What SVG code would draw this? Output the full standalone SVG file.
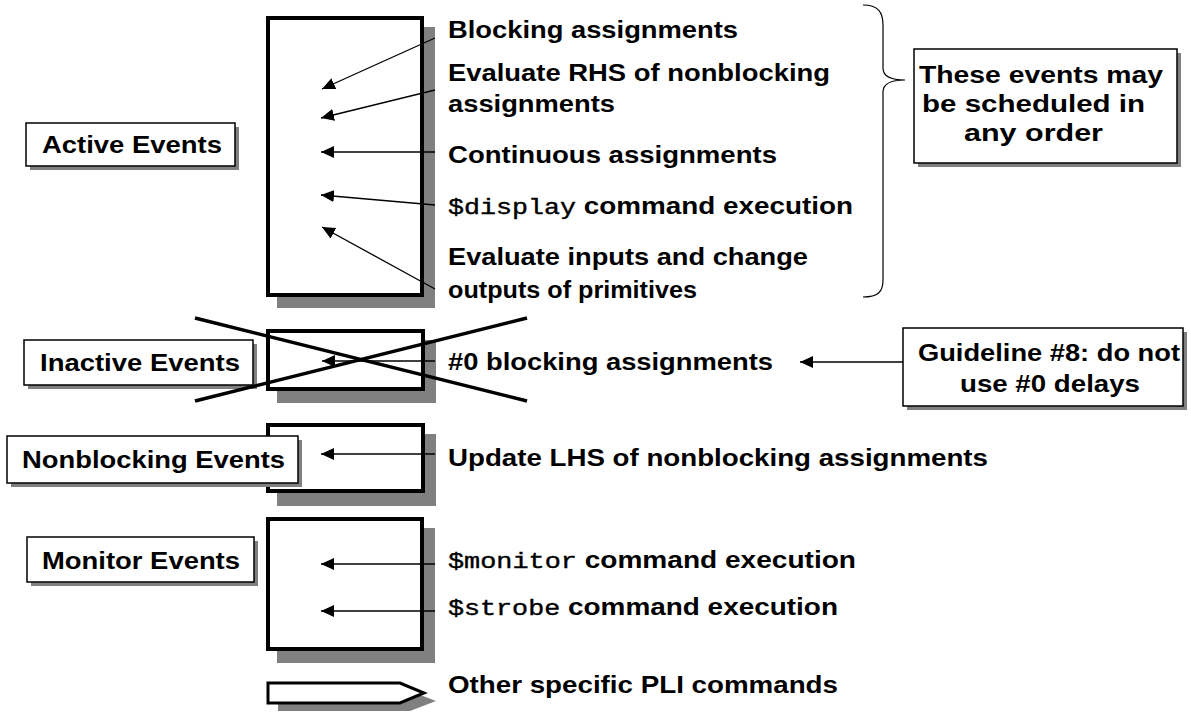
<svg xmlns="http://www.w3.org/2000/svg" width="1191" height="713" viewBox="0 0 1191 713">
<defs>
<marker id="ah" markerUnits="userSpaceOnUse" markerWidth="14" markerHeight="12" refX="13" refY="6" orient="auto">
<path d="M0,0 L13,6 L0,12 Z" fill="#000"/>
</marker>
<style>
.t{font-family:"Liberation Sans",Arial,sans-serif;font-weight:bold;font-size:23px;fill:#000}
.m{font-family:"Liberation Mono","Courier New",monospace;font-weight:normal;font-size:22px;stroke:#000;stroke-width:0.4}
.big{fill:#fff;stroke:#000;stroke-width:4}
.sh{fill:#808080}
.lbl{fill:#fff;stroke:#000;stroke-width:1.5}
.ar{stroke:#000;stroke-width:1.3;fill:none;marker-end:url(#ah)}
</style>
</defs>
<rect width="1191" height="713" fill="#fff"/>

<g id="active-box">
<rect class="sh" x="277" y="27" width="158" height="281"/>
<rect class="big" x="268" y="18" width="154" height="277"/>
</g>
<g id="inactive-box">
<rect class="sh" x="277" y="340" width="159" height="63"/>
<rect class="big" x="268" y="331" width="155" height="58"/>
</g>
<g id="nonblocking-box">
<rect class="sh" x="277" y="434" width="159" height="72"/>
<rect class="big" x="268" y="425" width="155" height="66"/>
</g>
<g id="monitor-box">
<rect class="sh" x="277" y="528" width="158" height="135"/>
<rect class="big" x="268" y="519" width="154" height="130"/>
</g>
<g id="pli-shape">
<polygon class="sh" points="278,691 410,691 436,701 410,711 278,711"/>
<polygon fill="#fff" stroke="#000" stroke-width="3" points="268,683 400,683 424,693 400,703 268,703"/>
</g>

<g id="label-active">
<rect class="sh" x="30" y="127" width="209" height="43"/>
<rect class="lbl" x="26" y="123" width="209" height="43"/>
<text class="t" x="42" y="153" textLength="180" lengthAdjust="spacingAndGlyphs">Active Events</text>
</g>
<g id="label-inactive">
<rect class="sh" x="28" y="344" width="229" height="45"/>
<rect class="lbl" x="24" y="340" width="229" height="45"/>
<text class="t" x="40" y="371" textLength="200" lengthAdjust="spacingAndGlyphs">Inactive Events</text>
</g>
<g id="label-nonblocking">
<rect class="sh" x="11" y="440" width="291" height="47"/>
<rect class="lbl" x="7" y="436" width="291" height="47"/>
<text class="t" x="22" y="468" textLength="263" lengthAdjust="spacingAndGlyphs">Nonblocking Events</text>
</g>
<g id="label-monitor">
<rect class="sh" x="31" y="541" width="227" height="45"/>
<rect class="lbl" x="27" y="537" width="227" height="45"/>
<text class="t" x="42" y="569" textLength="198" lengthAdjust="spacingAndGlyphs">Monitor Events</text>
</g>

<g id="cross">
<line x1="195" y1="318" x2="527" y2="401" stroke="#000" stroke-width="3.5"/>
<line x1="195" y1="401" x2="527" y2="318" stroke="#000" stroke-width="3.5"/>
</g>

<g id="connectors">
<line class="ar" x1="435" y1="38" x2="322" y2="89"/>
<line class="ar" x1="435" y1="90" x2="321" y2="118"/>
<line class="ar" x1="435" y1="152" x2="321" y2="152"/>
<line class="ar" x1="435" y1="205" x2="321" y2="195"/>
<line class="ar" x1="435" y1="289" x2="322" y2="227"/>
<line class="ar" x1="435" y1="361" x2="322" y2="361"/>
<line class="ar" x1="435" y1="454" x2="321" y2="454"/>
<line class="ar" x1="435" y1="564" x2="321" y2="564"/>
<line class="ar" x1="435" y1="611" x2="321" y2="611"/>
<line class="ar" x1="903" y1="362" x2="800" y2="362"/>
<path d="M863,5 C878,5 883,12 883,25 L883,68 C883,76 890,80 905,80 C890,80 883,84 883,92 L883,280 C883,292 878,297 863,297" fill="none" stroke="#000" stroke-width="1.2"/>
</g>

<g id="event-texts">
<text class="t" x="448" y="38" textLength="290" lengthAdjust="spacingAndGlyphs">Blocking assignments</text>
<text class="t" x="448" y="81" textLength="382" lengthAdjust="spacingAndGlyphs">Evaluate RHS of nonblocking</text>
<text class="t" x="448" y="112" textLength="167" lengthAdjust="spacingAndGlyphs">assignments</text>
<text class="t" x="448" y="163" textLength="329" lengthAdjust="spacingAndGlyphs">Continuous assignments</text>
<text class="t" x="448" y="214" textLength="405" lengthAdjust="spacingAndGlyphs"><tspan class="m">$display</tspan> command execution</text>
<text class="t" x="448" y="265" textLength="360" lengthAdjust="spacingAndGlyphs">Evaluate inputs and change</text>
<text class="t" x="448" y="298" textLength="249" lengthAdjust="spacingAndGlyphs">outputs of primitives</text>
<text class="t" x="448" y="370" textLength="325" lengthAdjust="spacingAndGlyphs">#0 blocking assignments</text>
<text class="t" x="448" y="466" textLength="540" lengthAdjust="spacingAndGlyphs">Update LHS of nonblocking assignments</text>
<text class="t" x="448" y="568" textLength="408" lengthAdjust="spacingAndGlyphs"><tspan class="m">$monitor</tspan> command execution</text>
<text class="t" x="448" y="615" textLength="390" lengthAdjust="spacingAndGlyphs"><tspan class="m">$strobe</tspan> command execution</text>
<text class="t" x="448" y="693" textLength="390" lengthAdjust="spacingAndGlyphs">Other specific PLI commands</text>
</g>

<g id="note-order">
<rect class="sh" x="918" y="53" width="263" height="114"/>
<rect class="lbl" x="914" y="49" width="263" height="114"/>
<text class="t" x="919" y="83" textLength="244" lengthAdjust="spacingAndGlyphs">These events may</text>
<text class="t" x="922" y="112" textLength="223" lengthAdjust="spacingAndGlyphs">be scheduled in</text>
<text class="t" x="964" y="141" textLength="139" lengthAdjust="spacingAndGlyphs">any order</text>
</g>
<g id="note-guideline">
<rect class="sh" x="907" y="332" width="280" height="78"/>
<rect class="lbl" x="903" y="328" width="280" height="78"/>
<text class="t" x="918" y="361" textLength="262" lengthAdjust="spacingAndGlyphs">Guideline #8: do not</text>
<text class="t" x="960" y="392" textLength="180" lengthAdjust="spacingAndGlyphs">use #0 delays</text>
</g>
</svg>
